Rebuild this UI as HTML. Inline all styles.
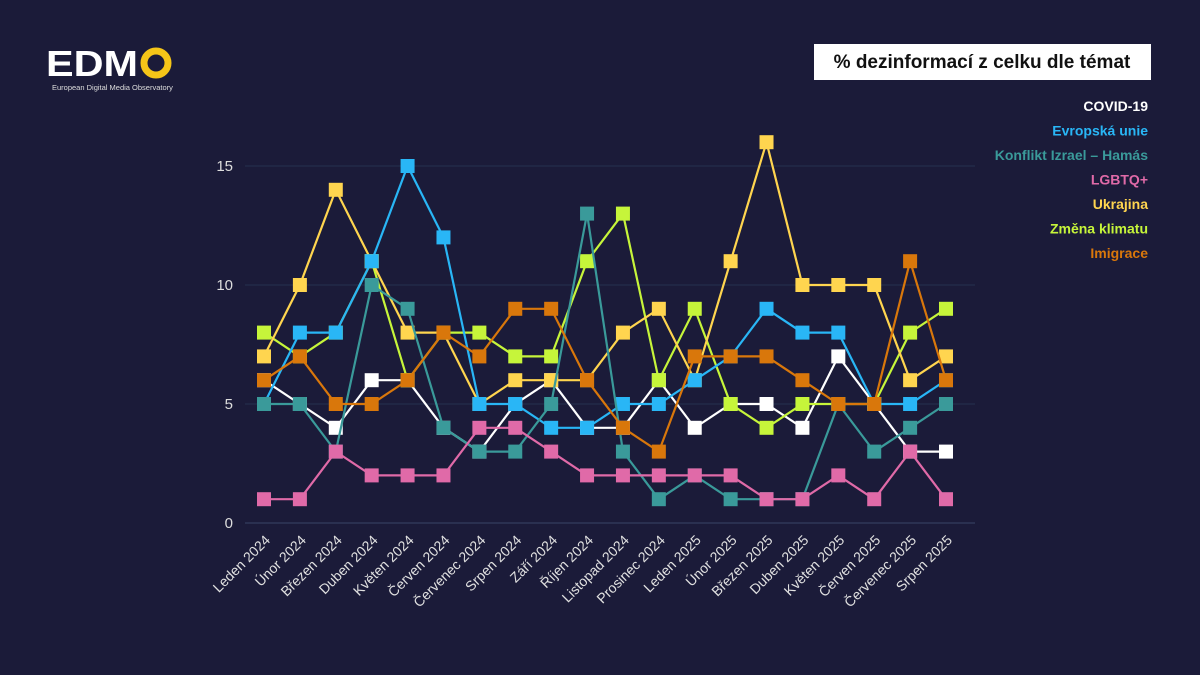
<!DOCTYPE html>
<html><head><meta charset="utf-8"><style>
body{margin:0;width:1200px;height:675px;background:#1b1b39;overflow:hidden;font-family:"Liberation Sans",sans-serif}
svg{position:absolute;left:0;top:0}
</style></head><body>
<svg width="1200" height="675" id="c">
<g>
<text x="46" y="76" fill="#fff" font-size="36" font-weight="bold" textLength="92" lengthAdjust="spacingAndGlyphs">EDM</text>
<circle cx="156" cy="63" r="12" fill="none" stroke="#f5c518" stroke-width="7"/>
<text x="52" y="90" fill="#ddd" font-size="7.5">European Digital Media Observatory</text>
</g>
<rect x="814" y="44" width="337" height="36" fill="#fff"/>
<text x="982" y="68" text-anchor="middle" font-size="19" font-weight="bold" fill="#111">% dezinformací z celku dle témat</text>
</svg>
<script>
const months=["Leden 2024","Únor 2024","Březen 2024","Duben 2024","Květen 2024","Červen 2024","Červenec 2024","Srpen 2024","Září 2024","Říjen 2024","Listopad 2024","Prosinec 2024","Leden 2025","Únor 2025","Březen 2025","Duben 2025","Květen 2025","Červen 2025","Červenec 2025","Srpen 2025"];
const seriesNames=["COVID-19","Evropská unie","Konflikt Izrael – Hamás","LGBTQ+","Ukrajina","Změna klimatu","Imigrace"];
const covid=[6,5,4,6,6,4,3,5,6,4,4,6,4,5,5,4,7,5,3,3];
const eu=[5,8,8,11,15,12,5,5,4,4,5,5,6,7,9,8,8,5,5,6];
const israel=[5,5,3,10,9,4,3,3,5,13,3,1,2,1,1,1,5,3,4,5];
const lgbt=[1,1,3,2,2,2,4,4,3,2,2,2,2,2,1,1,2,1,3,1];
const ukraine=[7,10,14,11,8,8,5,6,6,6,8,9,6,11,16,10,10,10,6,7];
const climate=[8,7,8,11,6,8,8,7,7,11,13,6,9,5,4,5,5,5,8,9];
const immigration=[6,7,5,5,6,8,7,9,9,6,4,3,7,7,7,6,5,5,11,6];
const yTicks=[0,5,10,15];
const colors=["#ffffff","#29b6f6","#3a9a9a","#e06aa8","#ffd54f","#c6f53a","#d9770b"];
const allSeries=[covid,eu,israel,lgbt,ukraine,climate,immigration];
const ns="http://www.w3.org/2000/svg",svg=document.getElementById('c');
const X=i=>264+i*(946-264)/19, Y=v=>523-v*23.8;
function mk(t,a,p){const e=document.createElementNS(ns,t);for(const k in a)e.setAttribute(k,a[k]);(p||svg).appendChild(e);return e;}
yTicks.forEach(t=>{
 const g=mk('line',{x1:245,x2:975,y1:Y(t),y2:Y(t),stroke:t?'#26304f':'#3a4466','stroke-width':1});
 
 
 const l=mk('text',{x:233,y:Y(t)+5,'text-anchor':'end',fill:'#ddd','font-size':15});l.textContent=t;
 
 
});
months.forEach((m,i)=>{
 const l=mk('text',{x:X(i)+7,y:541,'text-anchor':'end',fill:'#e0e0e0','font-size':14,transform:`rotate(-45 ${X(i)+7} 541)`});l.textContent=m;
 
 
});
[0,5,4,1,2,6,3].forEach(s=>{
 const d=allSeries[s];
 const g=mk('g',{});
 
 
 mk('polyline',{points:d.map((v,i)=>X(i)+','+Y(v)).join(' '),fill:'none',stroke:colors[s],'stroke-width':2.2},g);
 d.forEach((v,i)=>{const r=mk('rect',{x:X(i)-7,y:Y(v)-7,width:14,height:14,fill:colors[s]},g);
  
  });
});
seriesNames.forEach((n,i)=>{
 const t=mk('text',{x:1148,y:111+i*24.5,'text-anchor':'end',fill:colors[i],'font-size':14,'font-weight':'bold'});t.textContent=n;
 
 
});
</script>
</body></html>
